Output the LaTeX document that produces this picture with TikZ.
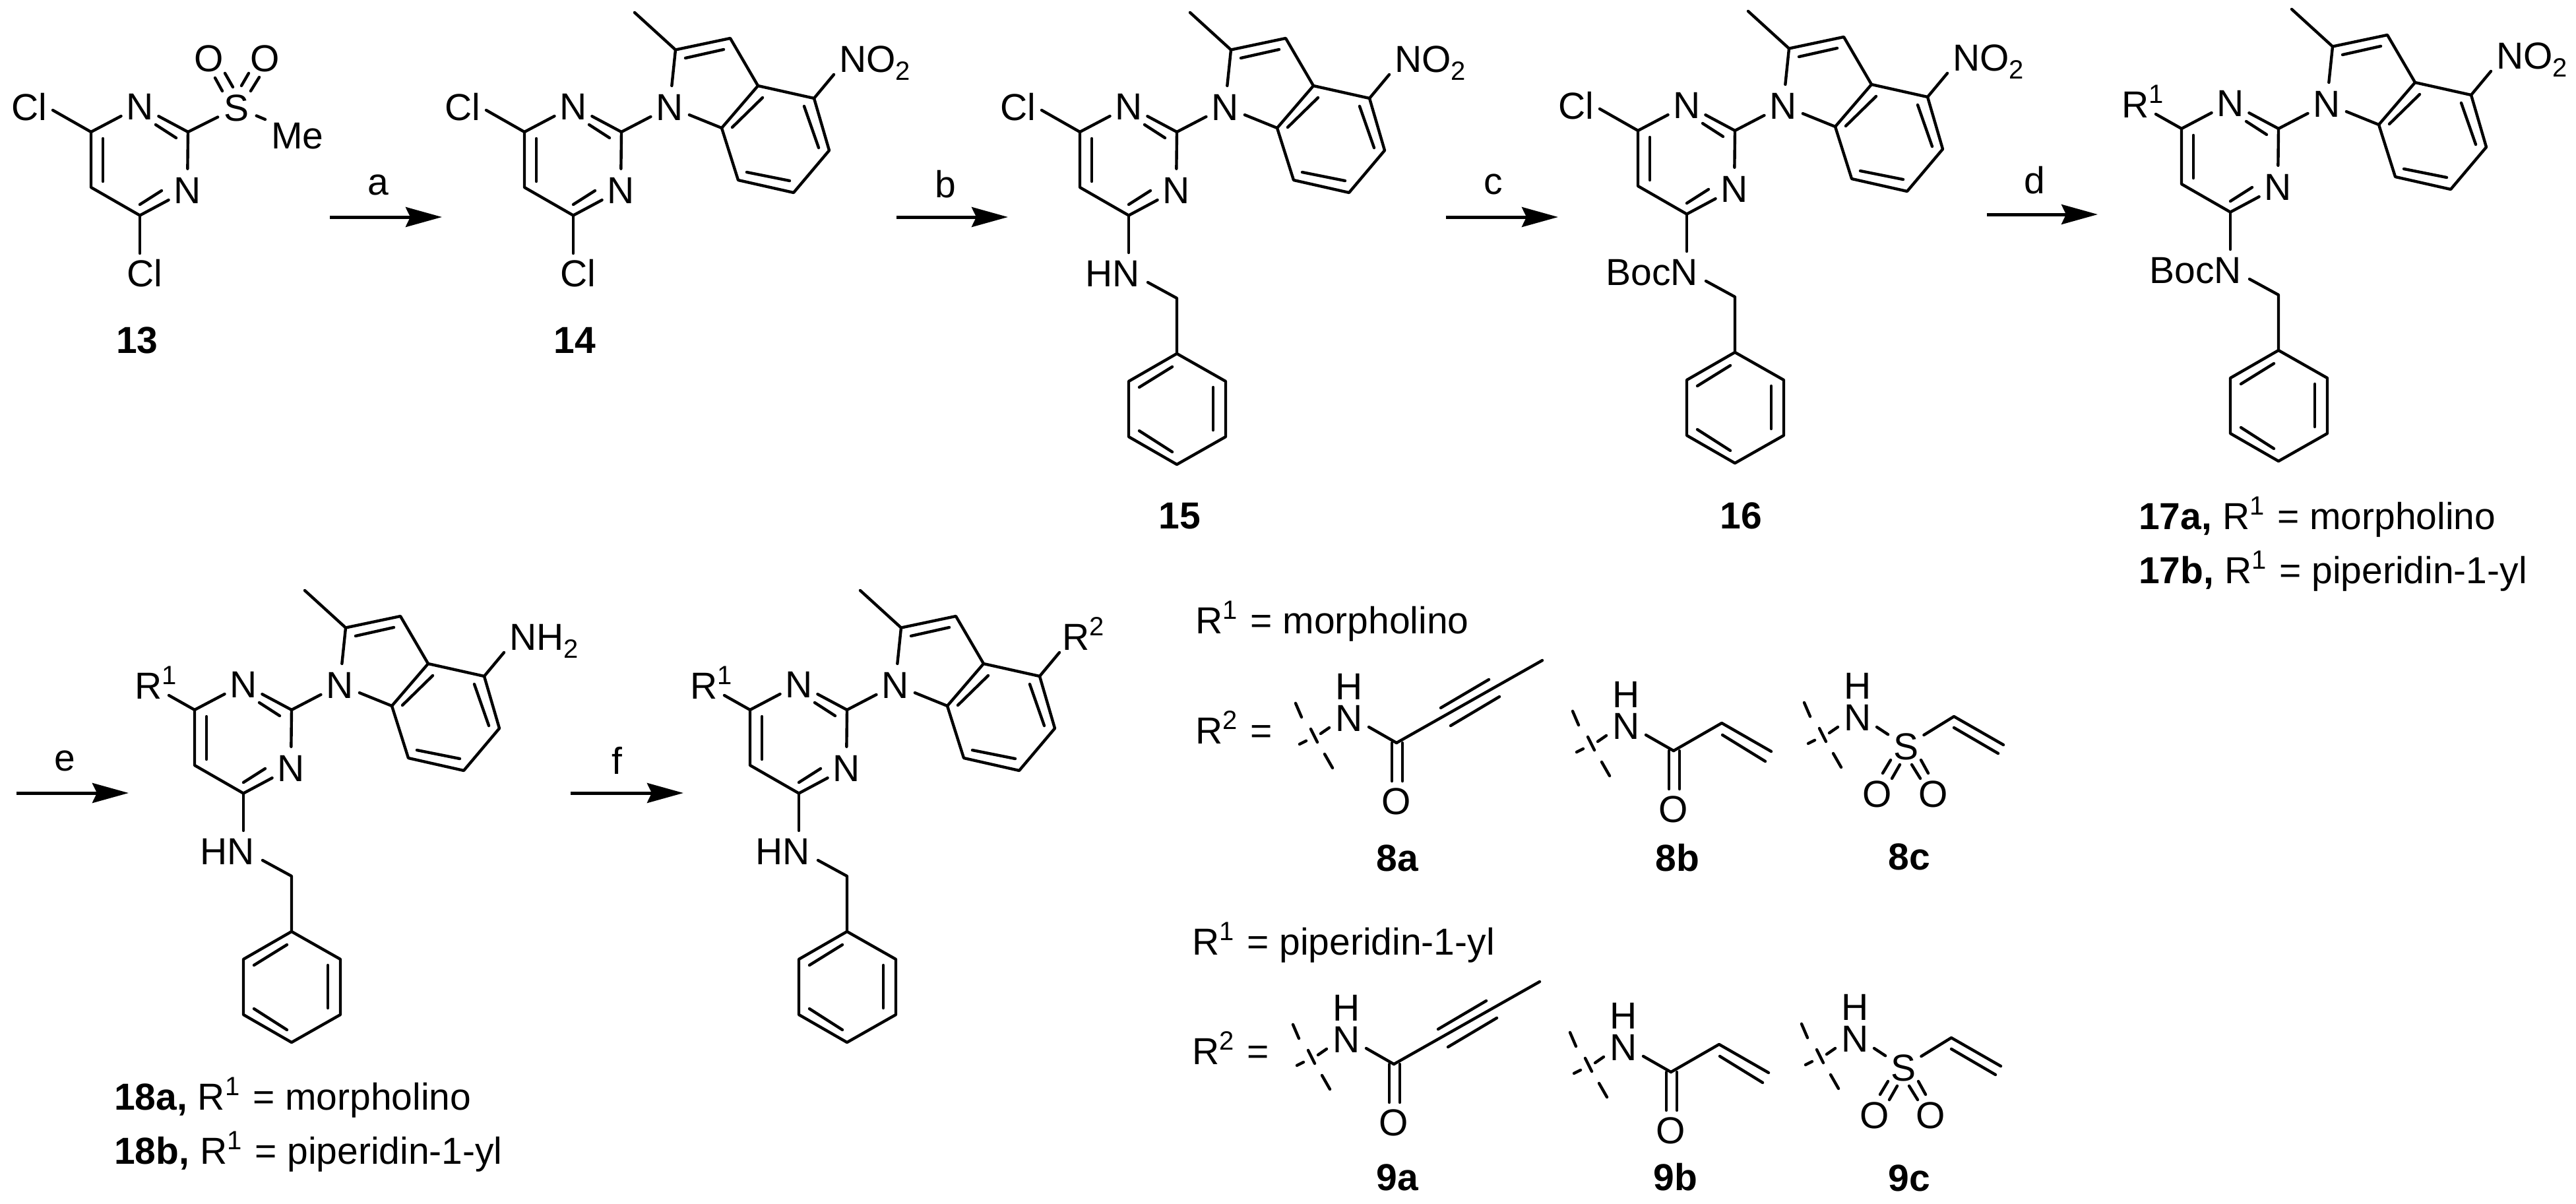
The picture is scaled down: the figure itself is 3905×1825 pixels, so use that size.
\documentclass[tikz,border=0pt]{standalone}
\usepackage{fontspec}
\setmainfont{Liberation Sans}
\usetikzlibrary{arrows.meta}
\newcommand{\labelfont}{\fontsize{57}{57}\selectfont}
\newcommand{\supr}[1]{\raisebox{22pt}{\fontsize{40}{40}\selectfont #1}}
\newcommand{\subr}[1]{\raisebox{-12pt}{\fontsize{40}{40}\selectfont #1}}
\newcommand{\eqgap}{\hspace{4pt}}
\tikzset{
  bond/.style={line width=4.4pt,line cap=round,line join=round},
  atom/.style={circle,inner sep=0pt,minimum size=64pt,font=\labelfont,text height=41pt,text depth=0pt},
  lab/.style={inner sep=0pt,font=\labelfont,text height=41pt,text depth=0pt},
  txt/.style={inner sep=0pt,anchor=base west,font=\labelfont},
  num/.style={inner sep=0pt,anchor=center,font=\labelfont\bfseries,text height=41pt,text depth=0pt},
  rxn/.style={line width=5pt,-{Stealth[length=55pt,width=30pt,inset=7pt]}},
  reag/.style={inner sep=0pt,anchor=center,font=\labelfont}
}
% pyrimidine ring
\newcommand{\Pyr}[3]{\begin{scope}[shift={(#2,#3)}]
  \coordinate (#1c6) at (-74,-43); \coordinate (#1c5) at (-74,41);
  \coordinate (#1c4) at (0,83.5);  \coordinate (#1c2) at (73,-43);
  \node[atom] (#1n1) at (0,-82) {N};
  \node[atom] (#1n3) at (72,45) {N};
  \draw[bond] (#1c6) -- (#1n1);
  \draw[bond] (#1n1) -- (#1c2) -- (#1n3);
  \draw[bond] (#1n3) -- (#1c4) -- (#1c5) -- (#1c6);
  \draw[bond] (24,-54) -- (55,-34);
  \draw[bond] (0,67) -- (33,46);
  \draw[bond] (-56,-33) -- (-56,32);
\end{scope}}
% 2-methylindol-1-yl with substituent at C4: #4 anchor x, #5 label
\newcommand{\Ind}[5]{\begin{scope}[shift={(#2,#3)}]
  \node[atom] (#1in) at (146,-81) {N};
  \coordinate (#1i2) at (155,-167.5); \coordinate (#1i3) at (238,-185);
  \coordinate (#1i3a) at (280,-113);  \coordinate (#1i7a) at (225,-49);
  \coordinate (#1i4) at (365,-94);    \coordinate (#1i5) at (388,-15);
  \coordinate (#1i6) at (334,49);     \coordinate (#1i7) at (250,30);
  \coordinate (#1ime) at (93,-224);   \coordinate (#1ix) at (395,-130);
  \draw[bond] (#1c2) -- (#1in);
  \draw[bond] (#1in) -- (#1i2) -- (#1i3) -- (#1i3a) -- (#1i4) -- (#1i5) -- (#1i6) -- (#1i7) -- (#1i7a) -- (#1in);
  \draw[bond] (#1i3a) -- (#1i7a);
  \draw[bond] (#1i2) -- (#1ime);
  \draw[bond] (#1i4) -- (#1ix);
  \draw[bond] (170,-155) -- (228,-168);
  \draw[bond] (287,-95) -- (241,-50);
  \draw[bond] (350,-82) -- (372,-19);
  \draw[bond] (328,31) -- (263,18);
  \node[lab,anchor=west] (#1isub) at (#4,-154) {#5};
\end{scope}}
% N-benzyl amine at C4
\newcommand{\Bn}[4]{\begin{scope}[shift={(#2,#3)}]
  \node[lab,anchor=east] (#1am) at (17,171) {#4};
  \coordinate (#1amb) at (0,140); \coordinate (#1amr) at (29,185);
  \coordinate (#1ch) at (73,209);
  \coordinate (#1ph1) at (73,293); \coordinate (#1ph2) at (147,335);
  \coordinate (#1ph3) at (147,419); \coordinate (#1ph4) at (73,461);
  \coordinate (#1ph5) at (0,419);  \coordinate (#1ph6) at (0,335);
  \draw[bond] (#1c4) -- (#1amb);
  \draw[bond] (#1amr) -- (#1ch) -- (#1ph1);
  \draw[bond] (#1ph1) -- (#1ph2) -- (#1ph3) -- (#1ph4) -- (#1ph5) -- (#1ph6) -- cycle;
  \draw[bond] (16,344) -- (66,313);
  \draw[bond] (128,344) -- (128,409);
  \draw[bond] (16,410) -- (66,442);
\end{scope}}
% chlorine at C6
\newcommand{\ClSix}[3]{\begin{scope}[shift={(#2,#3)}]
  \node[lab] (#1cl) at (-168,-81) {Cl};
  \coordinate (#1cle) at (-132,-76);
  \draw[bond] (#1c6) -- (#1cle);
\end{scope}}
% chlorine at C4
\newcommand{\ClFour}[3]{\begin{scope}[shift={(#2,#3)}]
  \node[lab] (#1clb) at (7,171) {Cl};
  \coordinate (#1clbe) at (0,141);
  \draw[bond] (#1c4) -- (#1clbe);
\end{scope}}
% R1 at C6
\newcommand{\RSix}[3]{\begin{scope}[shift={(#2,#3)}]
  \node[lab,anchor=west] (#1r) at (-165,-80) {R\supr{1}};
  \coordinate (#1re) at (-113,-65);
  \draw[bond] (#1c6) -- (#1re);
\end{scope}}
% attachment marks
\newcommand{\Cut}{%
  \draw[bond] (-81,-22) -- (-72,-1);
  \draw[bond] (-58,17) -- (-48,37);
  \draw[bond] (-37,55) -- (-25,76);
  \draw[bond] (-75,40) -- (-65,35);
  \draw[bond] (-43,24) -- (-30,15);}
\newcommand{\Carbonyl}[1]{%
  \node[lab] (#1h) at (0,-48) {H};
  \node[lab] (#1n) at (0,0) {N};
  \coordinate (#1ns) at (30,14);
  \coordinate (#1c) at (72,38);
  \node[atom] (#1o) at (72,126) {O};
  \draw[bond] (#1ns) -- (#1c);
  \draw[bond] (65,38) -- (65,96);
  \draw[bond] (81,38) -- (81,96);
  \Cut}
\newcommand{\Ynamide}[3]{\begin{scope}[shift={(#2,#3)}]
  \Carbonyl{#1}
  \coordinate (#1me) at (293,-87);
  \draw[bond] (#1c) -- (#1me);
  \draw[bond] (139,-15) -- (212,-58);
  \draw[bond] (154,12) -- (228,-32);
\end{scope}}
\newcommand{\Acryl}[3]{\begin{scope}[shift={(#2,#3)}]
  \Carbonyl{#1}
  \coordinate (#1ch) at (145,-4); \coordinate (#1cht) at (220,39);
  \draw[bond] (#1c) -- (#1ch) -- (#1cht);
  \draw[bond] (146,14) -- (211,54);
\end{scope}}
\newcommand{\Vinyl}[3]{\begin{scope}[shift={(#2,#3)}]
  \node[lab] (#1h) at (0,-48) {H};
  \node[lab] (#1n) at (0,0) {N};
  \coordinate (#1ns) at (29,15);
  \node[atom] (#1s) at (73,44) {S};
  \node[atom] (#1oa) at (30,116) {O};
  \node[atom] (#1ob) at (115,116) {O};
  \coordinate (#1ch) at (146,-1); \coordinate (#1cht) at (221,42);
  \draw[bond] (#1ns) -- (#1s);
  \draw[bond] (#1s) -- (#1ch) -- (#1cht);
  \draw[bond] (146,16) -- (213,55);
  \draw[bond] (50,65) -- (38,85);
  \draw[bond] (64,72) -- (52,93);
  \draw[bond] (96,65) -- (107,85);
  \draw[bond] (82,72) -- (95,93);
  \Cut
\end{scope}}
\begin{document}
\begin{tikzpicture}[x=1pt,y=-1pt]
\useasboundingbox (0,0) rectangle (3905,1825);
% 13
\Pyr{a}{212}{243}
\ClSix{a}{212}{243}
\ClFour{a}{212}{243}
\begin{scope}[shift={(212,243)}]
  \node[atom] (as) at (147,-80) {S};
  \node[atom] (aoa) at (105,-155) {O};
  \node[atom] (aob) at (190,-155) {O};
  \node[lab,anchor=west] (ame) at (199,-38) {Me};
  \coordinate (ameb) at (190,-62);
  \draw[bond] (ac2) -- (as);
  \draw[bond] (as) -- (ameb);
  \draw[bond] (114,-125) -- (125,-105);
  \draw[bond] (129,-132) -- (141,-111);
  \draw[bond] (154,-113) -- (165,-132);
  \draw[bond] (168,-105) -- (181,-126);
\end{scope}
\node[num] (l13) at (208,515) {13};
% 14
\Pyr{b}{869}{243}
\ClSix{b}{869}{243}
\ClFour{b}{869}{243}
\Ind{b}{869}{243}{403}{NO\subr{2}}
\node[num] (l14) at (871,515) {14};
% 15
\Pyr{c}{1711}{243}
\ClSix{c}{1711}{243}
\Ind{c}{1711}{243}{403}{NO\subr{2}}
\Bn{c}{1711}{243}{HN}
\node[num] (l15) at (1788,781) {15};
% 16
\Pyr{d}{2557}{241}
\ClSix{d}{2557}{241}
\Ind{d}{2557}{241}{403}{NO\subr{2}}
\Bn{d}{2557}{241}{BocN}
\node[num] (l16) at (2639,781) {16};
% 17
\Pyr{e}{3381}{238}
\RSix{e}{3381}{238}
\Ind{e}{3381}{238}{403}{NO\subr{2}}
\Bn{e}{3381}{238}{BocN}
\node[txt] (l17a) at (3242,802) {\textbf{17a,} R\supr{1}\eqgap{} = morpholino};
\node[txt] (l17b) at (3242,884) {\textbf{17b,} R\supr{1}\eqgap{} = piperidin-1-yl};
% 18
\Pyr{f}{369}{1119}
\RSix{f}{369}{1119}
\Ind{f}{369}{1119}{403}{NH\subr{2}}
\Bn{f}{369}{1119}{HN}
\node[txt] (l18a) at (173,1682) {\textbf{18a,} R\supr{1}\eqgap{} = morpholino};
\node[txt] (l18b) at (173,1764) {\textbf{18b,} R\supr{1}\eqgap{} = piperidin-1-yl};
% final
\Pyr{g}{1211}{1119}
\RSix{g}{1211}{1119}
\Ind{g}{1211}{1119}{399}{R\supr{2}}
\Bn{g}{1211}{1119}{HN}
% arrows
\coordinate (r1s) at (500,329);  \coordinate (r1e) at (670,329);
\coordinate (r2s) at (1359,329); \coordinate (r2e) at (1528,329);
\coordinate (r3s) at (2192,329); \coordinate (r3e) at (2362,329);
\coordinate (r4s) at (3012,325); \coordinate (r4e) at (3180,325);
\coordinate (r5s) at (25,1202);  \coordinate (r5e) at (195,1202);
\coordinate (r6s) at (865,1202); \coordinate (r6e) at (1036,1202);
\draw[rxn] (r1s) -- (r1e);
\draw[rxn] (r2s) -- (r2e);
\draw[rxn] (r3s) -- (r3e);
\draw[rxn] (r4s) -- (r4e);
\draw[rxn] (r5s) -- (r5e);
\draw[rxn] (r6s) -- (r6e);
\node[reag] (ta) at (573,280) {a};
\node[reag] (tb) at (1433,279) {b};
\node[reag] (tc) at (2264,279) {c};
\node[reag] (td) at (3084,273) {d};
\node[reag] (te) at (98,1153) {e};
\node[reag] (tf) at (935,1153) {f};
% substituent tables
\node[txt] (r1m) at (1812,960) {R\supr{1}\eqgap{} = morpholino};
\node[txt] (r2m) at (1812,1127) {R\supr{2}\eqgap{} =};
\Ynamide{ua}{2045}{1088}
\Acryl{ub}{2465}{1100}
\Vinyl{uc}{2816}{1087}
\node[num] (l8a) at (2118,1300) {8a};
\node[num] (l8b) at (2543,1300) {8b};
\node[num] (l8c) at (2894,1298) {8c};
\node[txt] (r1p) at (1807,1447) {R\supr{1}\eqgap{} = piperidin-1-yl};
\node[txt] (r2p) at (1807,1613) {R\supr{2}\eqgap{} =};
\Ynamide{va}{2041}{1575}
\Acryl{vb}{2461}{1587}
\Vinyl{vc}{2812}{1574}
\node[num] (l9a) at (2118,1784) {9a};
\node[num] (l9b) at (2540,1784) {9b};
\node[num] (l9c) at (2894,1785) {9c};
\end{tikzpicture}
\end{document}
